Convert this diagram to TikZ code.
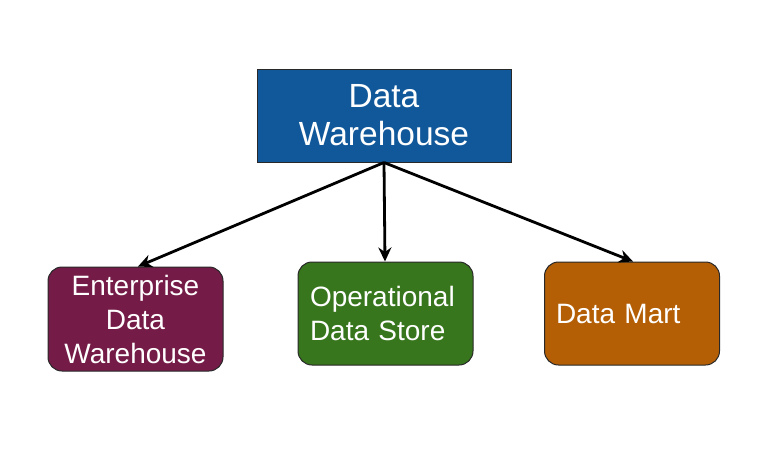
\documentclass[tikz,border=0pt]{standalone}
\usepackage{fontspec}
\setmainfont{Liberation Sans}
\usetikzlibrary{arrows.meta}
\definecolor{dwblue}{RGB}{17,88,154}
\definecolor{ewred}{RGB}{116,27,71}
\definecolor{odsgreen}{RGB}{56,118,29}
\definecolor{dmorange}{RGB}{180,95,6}
\definecolor{edge}{RGB}{40,40,40}
\begin{document}
\begin{tikzpicture}[x=1pt,y=-1pt,
  box/.style={draw=edge,line width=1pt,text=white,inner sep=0pt,
    font=\fontsize{28}{34}\selectfont},
  rbox/.style={box,rounded corners=14pt,minimum width=175pt,minimum height=103pt},
  conn/.style={line width=2.8pt,-{Stealth[length=14pt,width=13pt]}}]
\useasboundingbox[fill=white] (0,0) rectangle (768,448);
\node[box,fill=dwblue,minimum width=254pt,minimum height=93pt,align=center,
  font=\fontsize{33.5}{38}\selectfont] (dw) at (384,115.5) {Data\\Warehouse};
\node[rbox,fill=ewred,minimum height=104pt,align=center] (ew) at (135.5,319) {Enterprise\\Data\\Warehouse};
\node[rbox,fill=odsgreen,text width=151pt,align=left] (ods) at (385.5,313.5) {Operational\\Data Store};
\node[rbox,fill=dmorange,text width=152pt,align=left] (dm) at (632,313.5) {Data Mart};
\draw[conn] (dw.south) -- ([xshift=2.5pt]ew.north);
\draw[conn] (dw.south) -- ([xshift=-0.5pt]ods.north);
\draw[conn] (dw.south) -- ([xshift=1pt]dm.north);
\end{tikzpicture}
\end{document}
